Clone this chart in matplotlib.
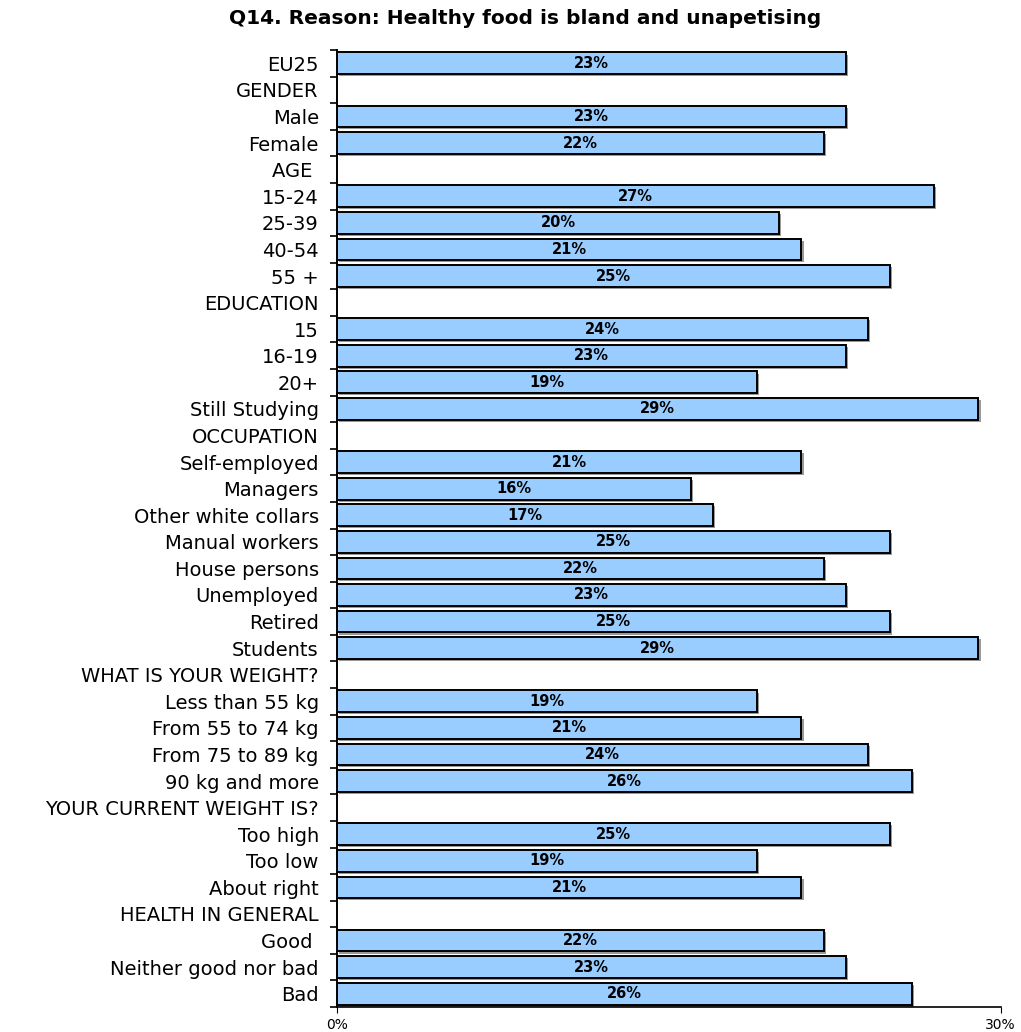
import matplotlib
matplotlib.use("Agg")
import matplotlib.pyplot as plt
import matplotlib.patheffects as pe

labels = ["EU25", "GENDER", "Male", "Female", "AGE ", "15-24", "25-39", "40-54", "55 +",
          "EDUCATION", "15", "16-19", "20+", "Still Studying",
          "OCCUPATION", "Self-employed", "Managers", "Other white collars", "Manual workers",
          "House persons", "Unemployed", "Retired", "Students",
          "WHAT IS YOUR WEIGHT?", "Less than 55 kg", "From 55 to 74 kg", "From 75 to 89 kg",
          "90 kg and more",
          "YOUR CURRENT WEIGHT IS?", "Too high", "Too low", "About right",
          "HEALTH IN GENERAL", "Good ", "Neither good nor bad", "Bad"]
# None = section header row (no bar)
values = [23, None, 23, 22, None, 27, 20, 21, 25,
          None, 24, 23, 19, 29,
          None, 21, 16, 17, 25, 22, 23, 25, 29,
          None, 19, 21, 24, 26,
          None, 25, 19, 21,
          None, 22, 23, 26]
title = "Q14. Reason: Healthy food is bland and unapetising"

fig = plt.figure(figsize=(10.21, 10.32), dpi=100)
ax = fig.add_axes([0.330, 0.0242, 0.650, 0.9273])

ys = [i for i, v in enumerate(values) if v is not None]
vs = [v for v in values if v is not None]
bars = ax.barh(ys, vs, height=0.82, color="#99CCFF", edgecolor="black", linewidth=1.4)
for b in bars:
    b.set_path_effects([pe.SimplePatchShadow(offset=(1.5, -1.5), shadow_rgbFace="#808080", alpha=0.8),
                        pe.Normal()])

for y, v in zip(ys, vs):
    ax.text(v / 2, y, f"{v}%", ha="center", va="center", fontsize=10.5, fontweight="bold")

ax.set_xlim(0, 30)
ax.set_ylim(len(labels) - 0.5, -0.5)

ax.set_yticks(range(len(labels)))
ax.set_yticklabels(labels, fontsize=14)
ax.set_yticks([i - 0.5 for i in range(len(labels) + 1)], minor=True)
ax.tick_params(axis="y", which="major", length=0, pad=13)
ax.tick_params(axis="y", which="minor", length=5, width=1.2)

ax.set_xticks([0, 30])
ax.set_xticklabels(["0%", "30%"], fontsize=10)
ax.tick_params(axis="x", length=4, pad=4)

for s in ["top", "right"]:
    ax.spines[s].set_visible(False)
ax.spines["left"].set_linewidth(1.4)
ax.spines["bottom"].set_linewidth(1.2)

fig.text(0.514, 0.982, title, ha="center", va="center", fontsize=14.5, fontweight="bold")

fig.savefig("out.png", dpi=100)
